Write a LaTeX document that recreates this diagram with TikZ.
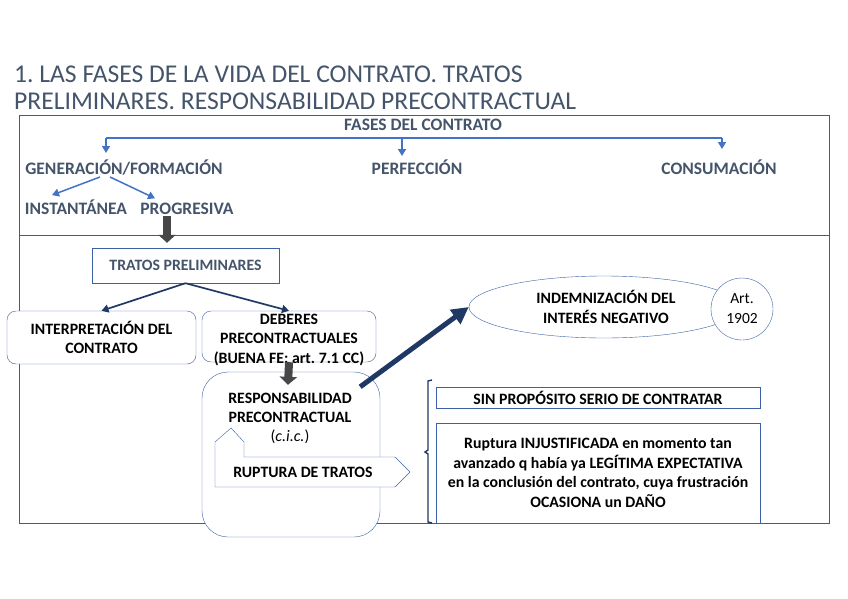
\documentclass[tikz,border=0pt]{standalone}
\usepackage{fontspec}
\setmainfont{Carlito}
\usetikzlibrary{shapes.geometric, arrows.meta, positioning, calc}
\definecolor{slate}{HTML}{44546A}
\definecolor{accent}{HTML}{4472C4}
\definecolor{navy}{HTML}{1F3864}
\definecolor{framegray}{HTML}{595959}
\tikzset{
    phase/.style={anchor=base, font=\bfseries\fontsize{17.5}{21}\selectfont, text=slate, inner sep=1pt},
    box/.style={draw=accent!85!black, thin, fill=white, align=center, inner sep=2pt, font=\bfseries\fontsize{15.8}{18.5}\selectfont},
    roundbox/.style={box, rounded corners=9pt},
    boxtext/.style={align=center, inner sep=1pt, font=\bfseries\fontsize{15.8}{19.5}\selectfont},
    barr/.style={-{Triangle[length=7pt, width=8pt]}, line width=1.5pt, draw=accent},
    narr/.style={-{Triangle[length=7pt, width=8pt]}, line width=1.7pt, draw=navy},
    blockarr/.style={-{Triangle[length=8pt, width=17pt]}, line width=8pt, draw=black!72},
    bigarr/.style={-{Triangle[length=17pt, width=17pt]}, line width=5pt, draw=navy}
}
\begin{document}
\begin{tikzpicture}[x=1pt, y=-1pt]
    \useasboundingbox (0,0) rectangle (848,599);
    % title
    \node[anchor=base west, inner sep=0, text=slate, font=\fontsize{25.6}{30}\selectfont] (title1) at (14,83) {1.\ LAS FASES DE LA VIDA DEL CONTRATO. TRATOS};
    \node[anchor=base west, inner sep=0, text=slate, font=\fontsize{25.6}{30}\selectfont] (title2) at (14,110) {PRELIMINARES. RESPONSABILIDAD PRECONTRACTUAL};

    % frame
    \draw[framegray, line width=1pt] (19,116) rectangle (829,523);
    \draw[framegray, line width=1pt] (19,235) -- (829,235);

    % fases
    \node[phase] (fases) at (423,131) {FASES DEL CONTRATO};
    \node[phase] (gen) at (124,174) {GENERACIÓN/FORMACIÓN};
    \node[phase] (perf) at (417,174) {PERFECCIÓN};
    \node[phase] (cons) at (719,174) {CONSUMACIÓN};
    \node[phase] (inst) at (76,214) {INSTANTÁNEA};
    \node[phase] (prog) at (187,214) {PROGRESIVA};

    \coordinate (hl) at (106,138);
    \coordinate (hm) at (402,138);
    \coordinate (hr) at (722,138);
    \draw[accent, line width=1.5pt] (hl) -- (hr);
    \draw[barr] (hl) -- ++(0,15);
    \draw[barr] (hm) -- ++(0,18);
    \draw[barr] (hr) -- ++(0,11);
    \draw[barr] ([xshift=-24pt, yshift=-1pt]gen.south) -- ([xshift=-24pt, yshift=3pt]inst.north);
    \draw[barr] ([xshift=-14pt, yshift=-1pt]gen.south) -- ([xshift=-32pt, yshift=3pt]prog.north);

    % tratos preliminares
    \node[box, text=slate, minimum width=187pt, minimum height=35pt] (tratos) at (185.5,265.5) {TRATOS PRELIMINARES};
    \draw[blockarr] ([xshift=-20pt, yshift=-1pt]prog.south) -- ([xshift=-18.5pt, yshift=5pt]tratos.north);

    \node[roundbox, minimum width=189pt, minimum height=53pt] (interp) at (101.5,337.5) {INTERPRETACIÓN DEL\\CONTRATO};
    \node[roundbox, minimum width=174pt, minimum height=51pt] (deberes) at (289,336.5) {};
    \node[boxtext] (deberestxt) at (289,340) {DEBERES\\PRECONTRACTUALES\\(BUENA FE: art.\ 7.1 CC)};
    \draw[narr] (tratos.south) -- (interp.north);
    \draw[narr] (tratos.south) -- (deberes.north);

    % responsabilidad
    \node[box, rounded corners=26pt, minimum width=178pt, minimum height=165pt] (resp) at (291,454.5) {};
    \node[boxtext, font=\bfseries\fontsize{15.8}{19}\selectfont] (resptxt) at (290,407.5) {RESPONSABILIDAD\\PRECONTRACTUAL};
    \node[font=\fontsize{16}{18}\selectfont, inner sep=1pt] (cic) at (290,437) {(\textit{c.i.c.})};
    \draw[blockarr] (deberes.south) -- ([xshift=-3pt, yshift=-13pt]resp.north);

    \draw[accent!85!black, thin, fill=white] (215,442) -- (231,428) -- (244,442) -- (244,457) -- (395,457)
        -- (410,472) -- (395,487) -- (215,487) -- cycle;
    \node[boxtext] (ruptura) at (303,472) {RUPTURA DE TRATOS};

    % indemnizacion
    \node[ellipse, draw=accent!85!black, thin, fill=white, inner sep=0pt, minimum width=270pt, minimum height=62pt] (indem) at (604,307) {};
    \node[boxtext, font=\bfseries\fontsize{15.8}{20}\selectfont] (indemtxt) at (606,307) {INDEMNIZACIÓN DEL\\INTERÉS NEGATIVO};
    \node[circle, draw=accent!85!black, thin, fill=white, minimum size=62pt, inner sep=0pt, align=center, font=\fontsize{15.5}{20}\selectfont] (art) at (742,309) {Art.\\1902};
    \draw[bigarr] ([xshift=-20pt, yshift=-15pt]resp.north east) -- (indem.west);

    % supuestos
    \draw[navy, line width=1.4pt] (432,380) -- (428,381) -- (428,450) -- (425,452) -- (428,454) -- (428,522) -- (432,523);
    \node[box, minimum width=324pt, minimum height=21pt] (sinprop) at (598,397.5) {SIN PROPÓSITO SERIO DE CONTRATAR};
    \node[box, font=\bfseries\fontsize{15.8}{19.5}\selectfont, minimum width=324pt, minimum height=100pt] (injust) at (598,473) {Ruptura INJUSTIFICADA en momento tan\\avanzado q había ya LEGÍTIMA EXPECTATIVA\\en la conclusión del contrato, cuya frustración\\OCASIONA un DAÑO};
\end{tikzpicture}
\end{document}
